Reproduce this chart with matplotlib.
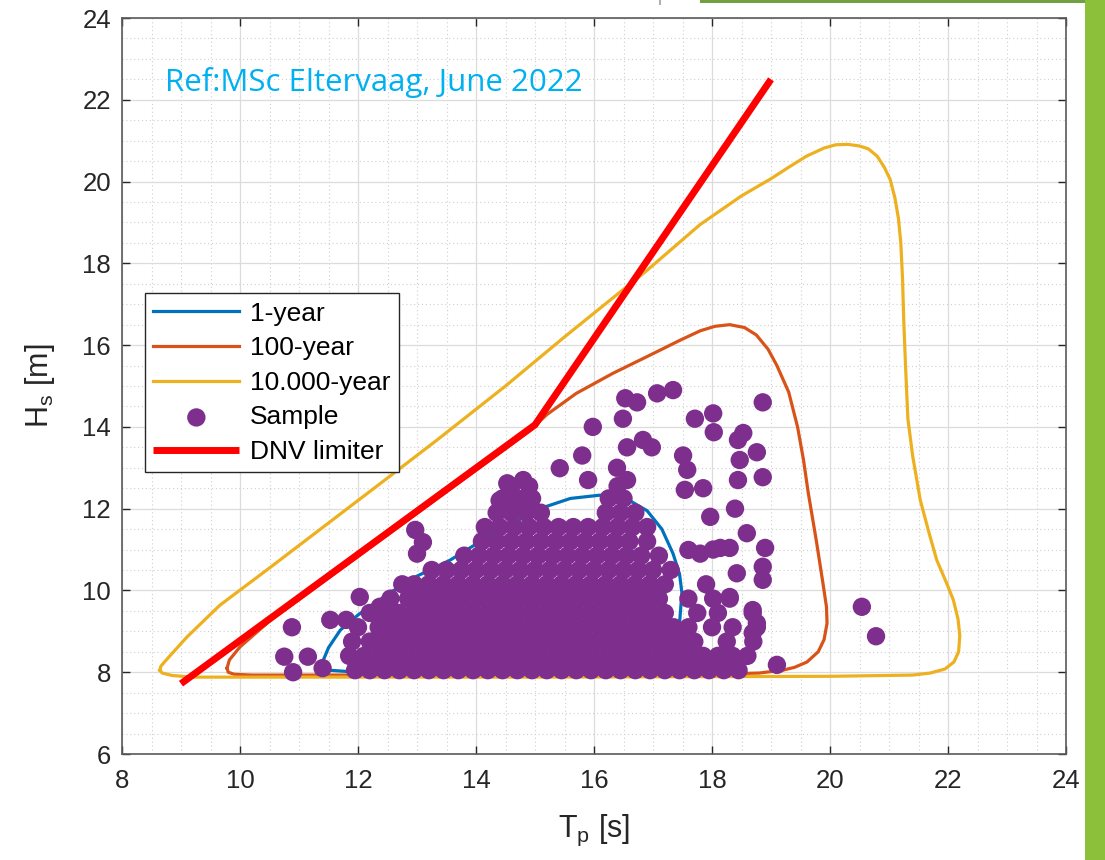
import matplotlib
matplotlib.use("Agg")
import matplotlib.pyplot as plt
from matplotlib.patches import Rectangle
from matplotlib.ticker import MultipleLocator

# ---------------- data ----------------
# 1-year contour (Tp [s], Hs [m])
c1_tp = [11.39, 11.5, 11.7, 12.0, 12.54, 13.0, 13.56, 14.3, 15.08, 15.6, 16.1, 16.6,
         16.9, 17.15, 17.34, 17.45, 17.49, 17.45, 17.29, 17.0, 16.5, 14.0, 12.0, 11.5, 11.39]
c1_hs = [8.22, 8.6, 9.03, 9.4, 9.94, 10.35, 10.74, 11.4, 12.0, 12.25, 12.33, 12.2,
         11.95, 11.5, 10.9, 10.4, 9.94, 9.2, 8.62, 8.2, 8.02, 7.98, 8.0, 8.05, 8.22]

# 100-year contour
c100_tp = [9.78, 9.82, 10.0, 10.5, 11.5, 12.5, 13.5, 14.5, 14.9, 15.2, 15.7, 16.32, 16.9,
           17.46, 17.8, 18.05, 18.3, 18.55, 18.75, 18.95, 19.1, 19.3, 19.45, 19.55, 19.63,
           19.77, 19.88, 19.94, 19.95, 19.9, 19.8, 19.61, 19.4, 19.2, 18.8, 18.0, 12.0,
           10.2, 9.9, 9.8, 9.78]
c100_hs = [8.1, 8.3, 8.62, 9.25, 10.31, 11.36, 12.42, 13.47, 13.9, 14.3, 14.82, 15.31, 15.72,
           16.12, 16.35, 16.46, 16.5, 16.43, 16.25, 15.9, 15.5, 14.85, 14.0, 13.2, 12.4,
           11.2, 10.18, 9.6, 9.2, 8.8, 8.5, 8.25, 8.12, 8.05, 7.98, 7.95, 7.93,
           7.93, 7.95, 8.0, 8.1]

# 10.000-year contour
c10k_tp = [8.64, 8.66, 8.75, 9.1, 9.66, 10.5, 11.5, 12.5, 13.34, 14.5, 15.5, 16.9, 17.8,
           18.5, 19.0, 19.3, 19.6, 19.9, 20.1, 20.3, 20.5, 20.65, 20.8, 20.92, 21.02, 21.1,
           21.16, 21.2, 21.23, 21.25, 21.28, 21.32, 21.4, 21.53, 21.68, 21.81, 21.97, 22.09,
           22.17, 22.2, 22.18, 22.1, 21.95, 21.7, 21.4, 20.0, 15.0, 10.0, 9.2, 8.85, 8.68, 8.64]
c10k_hs = [8.05, 8.15, 8.3, 8.86, 9.64, 10.55, 11.65, 12.75, 13.68, 15.0, 16.2, 17.83, 18.95,
           19.65, 20.07, 20.35, 20.62, 20.82, 20.9, 20.91, 20.87, 20.8, 20.62, 20.35, 20.05, 19.6,
           19.1, 18.5, 17.6, 16.6, 15.5, 14.2, 13.3, 12.21, 11.4, 10.74, 10.2, 9.77,
           9.3, 8.9, 8.5, 8.25, 8.08, 7.98, 7.93, 7.9, 7.88, 7.88, 7.88, 7.92, 7.98, 8.05]

# DNV limiter
dnv_tp = [9.0, 15.0, 19.0]
dnv_hs = [7.72, 14.05, 22.5]

# Sample points: dense cloud, typed row by row (Hs level, Tp values)
sample_rows = [
    (8.05, [11.95, 12.2, 12.45, 12.7, 12.95, 13.2, 13.45, 13.7, 13.95, 14.2, 14.45, 14.7, 14.95,
            15.2, 15.45, 15.7, 15.95, 16.2, 16.45, 16.7, 16.95, 17.2, 17.45, 17.7, 17.95, 18.2, 18.45]),
    (8.4, [11.85, 12.1, 12.35, 12.6, 12.85, 13.1, 13.35, 13.6, 13.85, 14.1, 14.35, 14.6, 14.85,
           15.1, 15.35, 15.6, 15.85, 16.1, 16.35, 16.6, 16.85, 17.1, 17.35, 17.6, 17.85, 18.1, 18.35, 18.6]),
    (8.75, [11.9, 12.2, 12.45, 12.7, 12.95, 13.2, 13.45, 13.7, 13.95, 14.2, 14.45, 14.7, 14.95,
            15.2, 15.45, 15.7, 15.95, 16.2, 16.45, 16.7, 16.95, 17.2, 17.45, 17.7, 18.25, 18.7]),
    (9.1, [12.0, 12.35, 12.6, 12.85, 13.1, 13.35, 13.6, 13.85, 14.1, 14.35, 14.6, 14.85, 15.1,
           15.35, 15.6, 15.85, 16.1, 16.35, 16.6, 16.85, 17.1, 17.35, 17.6, 18.0, 18.35, 18.76]),
    (9.45, [12.2, 12.45, 12.7, 12.95, 13.2, 13.45, 13.7, 13.95, 14.2, 14.45, 14.7, 14.95, 15.2,
            15.45, 15.7, 15.95, 16.2, 16.45, 16.7, 16.95, 17.2, 17.75, 18.1, 18.69]),
    (9.8, [12.55, 12.85, 13.1, 13.35, 13.6, 13.85, 14.1, 14.35, 14.6, 14.85, 15.1, 15.35, 15.6,
           15.85, 16.1, 16.35, 16.6, 16.85, 17.1, 17.6, 18.02, 18.3]),
    (10.15, [12.75, 12.95, 13.2, 13.45, 13.7, 13.95, 14.2, 14.45, 14.7, 14.95, 15.2, 15.45, 15.7,
             15.95, 16.2, 16.45, 16.7, 16.95, 17.2, 17.9]),
    (10.5, [13.25, 13.5, 13.75, 14.0, 14.25, 14.5, 14.75, 15.0, 15.25, 15.5, 15.75, 16.0, 16.25,
            16.5, 16.75, 17.0, 17.3]),
    (10.85, [13.8, 14.05, 14.3, 14.55, 14.8, 15.05, 15.3, 15.55, 15.8, 16.05, 16.3, 16.55, 16.8, 17.1]),
    (11.2, [14.1, 14.35, 14.6, 14.85, 15.1, 15.35, 15.6, 15.85, 16.1, 16.35, 16.6, 16.9]),
    (11.55, [14.15, 14.4, 14.65, 14.9, 15.15, 15.4, 15.65, 15.9, 16.15, 16.4, 16.65, 16.9]),
    (11.9, [14.35, 14.6, 14.85, 15.1, 16.2, 16.45, 16.7]),
    (12.25, [14.45, 14.7, 14.95, 16.25, 16.5]),
    (12.55, [14.6, 14.9, 16.4]),
]

# Sample points: isolated / sparse ones
sparse_tp = [10.75, 10.9, 10.88, 11.15, 11.4, 11.53, 11.8, 12.03, 12.37, 12.7,
             12.97, 13.1, 13.0, 14.53, 14.8, 14.4, 14.63,
             15.42, 15.8, 15.9, 15.98, 16.49, 16.53, 16.73, 17.07, 17.34, 18.86,
             16.56, 16.83, 16.98, 17.51, 17.58, 17.54, 17.85, 16.39, 16.56,
             17.71, 18.02, 18.03, 18.44, 18.53, 18.47, 18.76, 18.44, 18.86,
             17.97, 18.39, 18.59, 18.9, 18.86, 18.86, 18.42, 18.02, 18.14, 18.3, 17.6, 17.8,
             18.3, 18.69, 18.76, 18.69, 19.1, 20.54, 20.78]
sparse_hs = [8.38, 8.0, 9.1, 8.38, 8.1, 9.28, 9.28, 9.84, 9.6, 9.35,
             11.48, 11.18, 10.9, 12.62, 12.7, 12.2, 12.04,
             12.99, 13.3, 12.7, 14.0, 14.2, 14.7, 14.6, 14.82, 14.9, 14.6,
             13.5, 13.68, 13.5, 13.3, 12.95, 12.46, 12.5, 13.0, 12.7,
             14.2, 14.33, 13.87, 13.68, 13.85, 13.19, 13.38, 12.7, 12.77,
             11.8, 12.0, 11.4, 11.04, 10.58, 10.26, 10.42, 11.0, 11.04, 11.04, 10.99, 10.9,
             9.84, 9.52, 9.2, 8.96, 8.18, 9.6, 8.88]

sample_tp = [t for hs, row in sample_rows for t in row] + sparse_tp
sample_hs = [hs for hs, row in sample_rows for t in row] + sparse_hs

x_ticks = [8, 10, 12, 14, 16, 18, 20, 22, 24]
y_ticks = [6, 8, 10, 12, 14, 16, 18, 20, 22, 24]

# ---------------- styling ----------------
C_BLUE = "#0072BD"
C_ORANGE = "#D95319"
C_YELLOW = "#EDB120"
C_PURPLE = "#7E2F8E"
C_RED = "#FF0000"
C_AX = "#262626"

plt.rcParams["font.family"] = ["Liberation Sans", "DejaVu Sans"]

fig = plt.figure(figsize=(11.05, 8.6), dpi=100)
fig.patch.set_facecolor("white")
ax = fig.add_axes([122 / 1105, 106 / 860, 944 / 1105, 736 / 860])

ax.plot(c1_tp, c1_hs, color=C_BLUE, lw=2.3, label="1-year", zorder=3)
ax.plot(c100_tp, c100_hs, color=C_ORANGE, lw=2.3, label="100-year", zorder=3)
ax.plot(c10k_tp, c10k_hs, color=C_YELLOW, lw=2.3, label="10.000-year", zorder=3)
ax.scatter(sample_tp, sample_hs, s=175, color=C_PURPLE, edgecolors="none",
           label="Sample", zorder=4)
ax.plot(dnv_tp, dnv_hs, color=C_RED, lw=5, solid_capstyle="butt",
        label="DNV limiter", zorder=5)

ax.set_xlim(8, 24)
ax.set_ylim(6, 24)
ax.set_xticks(x_ticks)
ax.set_yticks(y_ticks)
ax.xaxis.set_minor_locator(MultipleLocator(0.5))
ax.yaxis.set_minor_locator(MultipleLocator(0.5))
ax.grid(which="major", color="#dcdcdc", lw=0.9, zorder=0)
ax.grid(which="minor", color="#cfcfcf", lw=0.8, ls=(0, (1, 2.5)), zorder=0)
ax.set_axisbelow(True)
ax.tick_params(which="major", direction="in", length=6, width=1.0, color=C_AX,
               top=True, right=True, labelsize=18.5, labelcolor=C_AX)
ax.tick_params(axis="x", which="major", pad=11)
ax.tick_params(axis="y", which="major", pad=8)
ax.tick_params(which="minor", length=0, top=True, right=True)
for sp in ax.spines.values():
    sp.set_color("#5a5a5a")
    sp.set_linewidth(1.2)

ax.set_xlabel(r"T$_\mathregular{p}$ [s]", fontsize=22, color=C_AX, labelpad=14)
ax.set_ylabel(r"H$_\mathregular{s}$ [m]", fontsize=22, color=C_AX, labelpad=18)

ax.text(0.0455, 0.913, "Ref:MSc Eltervaag, June 2022", transform=ax.transAxes,
        color="#00B0F0", fontsize=22.5, family=["Open Sans", "DejaVu Sans"],
        ha="left", va="center", zorder=6)

leg = ax.legend(loc="upper left", bbox_to_anchor=(0.0244, 0.626), borderaxespad=0,
                fontsize=19, frameon=True, fancybox=False, edgecolor="#262626",
                framealpha=1, handlelength=3.25, handletextpad=0.4, labelspacing=0.4,
                borderpad=0.32, markerscale=1.0)
leg.get_frame().set_linewidth(1.0)
leg.set_zorder(10)

# slide decorations (green bars)
fig.patches.append(Rectangle((1085 / 1105, 0), 20 / 1105, 1, transform=fig.transFigure,
                             facecolor="#8DC03A", edgecolor="none", zorder=-1))
fig.patches.append(Rectangle((700 / 1105, 857 / 860), 385 / 1105, 3 / 860,
                             transform=fig.transFigure, facecolor="#70A042",
                             edgecolor="none", zorder=-1))
fig.patches.append(Rectangle((659 / 1105, 855 / 860), 2 / 1105, 5 / 860,
                             transform=fig.transFigure, facecolor="#b0b0b0",
                             edgecolor="none", zorder=-1))

fig.savefig("out.png", dpi=100, facecolor="white")
